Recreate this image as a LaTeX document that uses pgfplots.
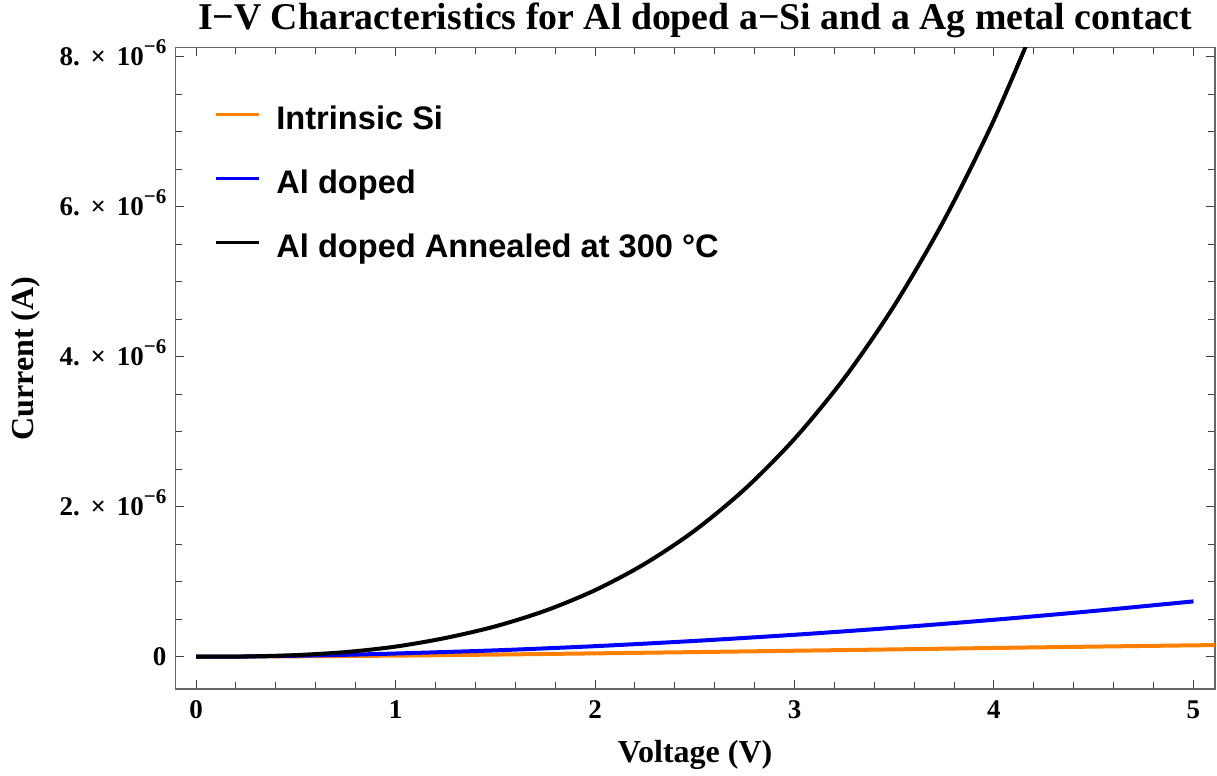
\documentclass[border=0pt]{standalone}
\usepackage{fontspec}
\setmainfont{Liberation Serif}
\newfontfamily\legfont{Liberation Sans}
\usepackage{pgfplots}
\pgfplotsset{compat=1.18}
\usepackage{pgfplotstable}

% current in units of 1e-6 A
\pgfplotstableread{
V I
0 0
0.5 0.006
1.0 0.015
1.5 0.029
2.0 0.045
2.5 0.062
3.0 0.080
3.5 0.098
4.0 0.117
4.5 0.135
5.0 0.152
5.2 0.158
}\intrinsic

\pgfplotstableread{
V I
0 0
0.25 0.003
0.5 0.013
0.75 0.026
1.0 0.043
1.5 0.085
2.0 0.141
2.5 0.211
3.0 0.293
3.5 0.387
4.0 0.493
4.5 0.610
5.0 0.738
}\doped

\pgfplotstableread{
V I
0 0
0.25 0.004
0.5 0.022
0.75 0.062
1.0 0.135
1.25 0.250
1.5 0.405
1.75 0.613
2.0 0.887
2.25 1.240
2.5 1.683
2.75 2.233
3.0 2.905
3.25 3.715
3.5 4.681
3.75 5.822
4.0 7.158
4.25 8.710
}\annealed

\definecolor{mmaorange}{rgb}{1,0.5,0}
\newcommand{\sci}[1]{#1.\hspace{0.4em}×\hspace{0.4em}10\raisebox{0.45em}{\fontsize{10.5}{10.5}\selectfont −6}}

\begin{document}
\begin{tikzpicture}
\begin{axis}[
    scale only axis,
    width=519.85pt, height=320.85pt,
    xmin=-0.104, xmax=5.108,
    ymin=-0.43, ymax=8.125,
    xtick={0,1,2,3,4,5},
    xticklabels={0,1,2,3,4,5},
    minor x tick num=4,
    ytick={0,2,4,6,8},
    yticklabels={0,{\sci{2}},{\sci{4}},{\sci{6}},{\sci{8}}},
    minor y tick num=3,
    tick align=inside,
    major tick length=4.5pt,
    minor tick length=3.3pt,
    axis line style={black!60, line width=0.6pt},
    tick style={black!75, line width=0.5pt},
    xticklabel style={font=\fontsize{13.5}{13.5}\selectfont\bfseries, anchor=base, yshift=-14.65pt},
    yticklabel style={font=\fontsize{13.5}{13.5}\selectfont\bfseries, anchor=base east, inner sep=0pt, xshift=-4.3pt, yshift=-4.45pt},
    every axis title shift=0pt,
    title={I−V Characteristics for Al doped a−Si and a Ag metal contact},
    title style={font=\fontsize{18.9}{18.9}\selectfont\bfseries, at={(axis description cs:0.5,1.027)}, anchor=base, inner sep=0pt},
    xlabel={Voltage (V)},
    xlabel style={font=\fontsize{16}{16}\selectfont\bfseries, at={(axis description cs:0.5,-0.1153)}, anchor=base, inner sep=0pt},
    ylabel={Current (A)},
    ylabel style={font=\fontsize{16}{16}\selectfont\bfseries, at={(axis description cs:-0.1366,0.515)}, anchor=base, inner sep=0pt},
    legend cell align=left,
    legend style={draw=none, fill=none, inner sep=0pt, outer sep=0pt,
      at={(axis description cs:0.0382,0.9091)}, anchor=north west,
      font=\legfont\bfseries\fontsize{16.3}{16.3}\selectfont,
      row sep=16pt,
      nodes={inner sep=0pt, text height=12pt, text depth=4pt}},
    legend image code/.code={
      \draw[#1, line width=1.4pt] (0pt,3.65pt) -- (21.5pt,3.65pt);
      \path (29pt,3.65pt);},
    every axis plot/.append style={line width=2pt, line join=round},
]
\addplot[mmaorange, smooth] table[x=V, y=I] {\intrinsic};
\addlegendentry{Intrinsic Si}
\addplot[blue, smooth] table[x=V, y=I] {\doped};
\addlegendentry{Al doped}
\addplot[black, smooth] table[x=V, y=I] {\annealed};
\addlegendentry{Al doped Annealed at 300 °C}
\coordinate (a0) at (rel axis cs:0,0);
\coordinate (a1) at (rel axis cs:1,1);
\end{axis}
\pgfresetboundingbox
\path ([xshift=-87.65pt,yshift=-43.5pt]a0) rectangle ([xshift=1pt,yshift=23.65pt]a1);
\end{tikzpicture}
\end{document}
